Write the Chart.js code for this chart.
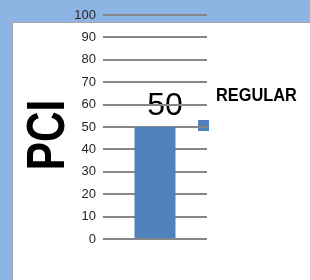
<!DOCTYPE html>
<html lang="en">
<head>
    <meta charset="UTF-8">
    <title>PCI</title>
    <script src="https://cdn.jsdelivr.net/npm/chart.js"></script>
    <style>
        html, body {
            margin: 0;
            padding: 0;
            width: 310px;
            height: 280px;
            overflow: hidden;
            background: #8db4e2;
        }
        #panel {
            position: absolute;
            left: 12px;
            top: 22px;
            width: 298px;
            height: 258px;
            background: #fff;
            border-top: 1px solid #a6a6a6;
            border-left: 1px solid #a6a6a6;
        }
        #wrap {
            position: absolute;
            left: 0;
            top: 0;
            width: 310px;
            height: 280px;
        }
    </style>
</head>
<body>
    <div id="panel"></div>
    <div id="wrap"><canvas id="chart" width="310" height="280"></canvas></div>

    <script>
        const categories = ['REGULAR'];
        const values = [50];
        const seriesName = 'REGULAR';
        const axisTitle = 'PCI';
        const yMin = 0, yMax = 100, yStep = 10;

        const barColor = '#4f81bd';

        // texto estrecho: Arial Narrow no está, se comprime a mano
        function narrowText(ctx, text, x, y, squeeze) {
            ctx.save();
            ctx.translate(x, y);
            ctx.scale(squeeze, 1);
            ctx.fillText(text, 0, 0);
            ctx.restore();
        }

        // etiqueta del valor (debajo de la rejilla) + leyenda + título del eje
        const extras = {
            id: 'extras',
            beforeDraw(chart) {
                const ctx = chart.ctx;
                const meta = chart.getDatasetMeta(0);
                ctx.save();
                ctx.fillStyle = '#000';
                ctx.font = '32px "Liberation Sans", Arial, sans-serif';
                ctx.textAlign = 'center';
                ctx.textBaseline = 'alphabetic';
                meta.data.forEach((bar, i) => {
                    ctx.fillText(String(values[i]), bar.x + 10, bar.y - 12);
                });
                // marcador de la leyenda
                const area = chart.chartArea;
                const y50 = chart.scales.y.getPixelForValue(values[0]);
                ctx.fillStyle = barColor;
                ctx.fillRect(area.right - 9, y50 - 7, 11, 11);
                ctx.restore();
            },
            afterDraw(chart) {
                const ctx = chart.ctx;
                const area = chart.chartArea;
                ctx.save();
                ctx.fillStyle = '#000';
                ctx.font = 'bold 19px "Liberation Sans", Arial, sans-serif';
                ctx.textAlign = 'left';
                ctx.textBaseline = 'alphabetic';
                narrowText(ctx, seriesName, area.right + 9, 101, 0.86);

                ctx.translate(47, 135);
                ctx.rotate(-Math.PI / 2);
                ctx.textAlign = 'center';
                ctx.textBaseline = 'middle';
                ctx.font = 'bold 53px "Liberation Sans", Arial, sans-serif';
                narrowText(ctx, axisTitle, 0, 2, 0.8);
                ctx.restore();
            }
        };

        new Chart(document.getElementById('chart'), {
            type: 'bar',
            data: {
                labels: categories,
                datasets: [{
                    label: seriesName,
                    data: values,
                    backgroundColor: barColor,
                    barPercentage: 0.394,
                    categoryPercentage: 1
                }]
            },
            options: {
                responsive: false,
                animation: false,
                layout: { padding: { left: 0, right: 103, top: 15, bottom: 41 } },
                plugins: { legend: { display: false }, tooltip: { enabled: false } },
                scales: {
                    x: { display: false },
                    y: {
                        min: yMin,
                        max: yMax,
                        afterFit(s) { s.width = 103; },
                        ticks: {
                            stepSize: yStep,
                            padding: 7,
                            color: '#262626',
                            font: { family: '"Liberation Sans", Arial, sans-serif', size: 13 }
                        },
                        grid: { color: '#878787', lineWidth: 2, drawTicks: false },
                        border: { display: false }
                    }
                }
            },
            plugins: [extras]
        });
    </script>
</body>
</html>
